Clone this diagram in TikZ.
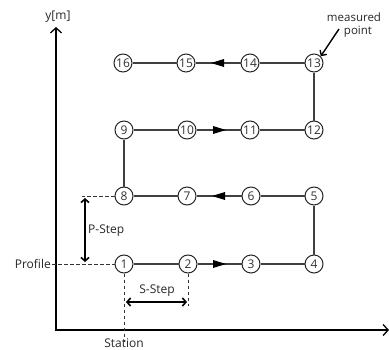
\documentclass[tikz,border=0pt]{standalone}
\usepackage{fontspec}
\setmainfont{Open Sans}
\usetikzlibrary{arrows.meta}
\begin{document}
\begin{tikzpicture}[x=1pt,y=-1pt,
  pt/.style={draw=black!85,circle,line width=1pt,inner sep=0pt,minimum size=18pt,fill=white,font=\fontsize{12}{12}\selectfont,text=black!80},
  link/.style={draw=black!75,line width=1.1pt},
  guide/.style={draw=black!80,line width=1pt,dash pattern=on 3.5pt off 2.5pt},
  axis/.style={line width=1.6pt,-{Straight Barb[length=5pt,width=11pt,line width=1.3pt]}},
  dim/.style={line width=1.6pt,{Straight Barb[length=3.5pt,width=8pt]}-{Straight Barb[length=3.5pt,width=8pt]}},
  lbl/.style={font=\fontsize{12}{13}\selectfont,text=black!85,inner sep=1pt}]
\useasboundingbox (0,0) rectangle (389,349);
% axes
\coordinate (ytip) at (56,27);
\coordinate (xtip) at (389,330);
\draw[axis] (56,331) -- (ytip);
\draw[axis] (55.2,330) -- (xtip);
\node[lbl] (ylab) at (58,17) {y[m]};
% measuring points
\node[pt] (n1) at (124,264) {1};
\node[pt] (n2) at (188,264) {2};
\node[pt] (n3) at (251,264) {3};
\node[pt] (n4) at (314,264) {4};
\node[pt] (n5) at (314,196) {5};
\node[pt] (n6) at (251,196) {6};
\node[pt] (n7) at (187,196) {7};
\node[pt] (n8) at (124,196) {8};
\node[pt] (n9) at (124,130) {9};
\node[pt] (n10) at (187,130) {10};
\node[pt] (n11) at (250,130) {11};
\node[pt] (n12) at (314,130) {12};
\node[pt] (n13) at (314,63) {13};
\node[pt] (n14) at (250,63) {14};
\node[pt] (n15) at (186,63) {15};
\node[pt] (n16) at (123,63) {16};
% survey path
\draw[link] (n1) -- (n2);
\draw[link] (n2) -- (n3);
\draw[link] (n3) -- (n4);
\draw[link] (n4) -- (n5);
\draw[link] (n5) -- (n6);
\draw[link] (n6) -- (n7);
\draw[link] (n7) -- (n8);
\draw[link] (n8) -- (n9);
\draw[link] (n9) -- (n10);
\draw[link] (n10) -- (n11);
\draw[link] (n11) -- (n12);
\draw[link] (n12) -- (n13);
\draw[link] (n13) -- (n14);
\draw[link] (n14) -- (n15);
\draw[link] (n15) -- (n16);
% direction marks
\fill[black] (226,264) -- (213,260) -- (213,268) -- cycle;
\fill[black] (212,196) -- (225,192) -- (225,200) -- cycle;
\fill[black] (226,130) -- (213,126) -- (213,134) -- cycle;
\fill[black] (211,63) -- (224,59) -- (224,67) -- cycle;
% profile and station guides
\node[lbl,anchor=east] (prof) at (52,264) {Profile};
\draw[guide] (prof.east) -- (n1);
\coordinate (p8) at (82,196);
\draw[guide] (n8) -- (p8);
\coordinate (st) at (124,342);
\draw[guide] (n1) -- (st);
\node[lbl,anchor=north] (stlab) at (124,337) {Station};
\coordinate (s2) at (188,306);
\draw[guide] (n2) -- (s2);
% step dimensions
\coordinate (pa) at (85,198);
\coordinate (pb) at (85,262);
\draw[dim] (pa) -- (pb);
\node[lbl,anchor=west] (plab) at (87,231) {P-Step};
\coordinate (sa) at (126,302);
\coordinate (sb) at (187,302);
\draw[dim] (sa) -- (sb);
\node[lbl] (slab) at (157,291) {S-Step};
% annotation
\node[lbl,align=center,font=\fontsize{11.5}{13}\selectfont] (mp) at (354,25) {measured\\\hspace*{8pt}point};
\draw[line width=1.4pt,-{Straight Barb[length=4pt,width=8pt]}] (339,29) -- (n13.north east);
\end{tikzpicture}
\end{document}
